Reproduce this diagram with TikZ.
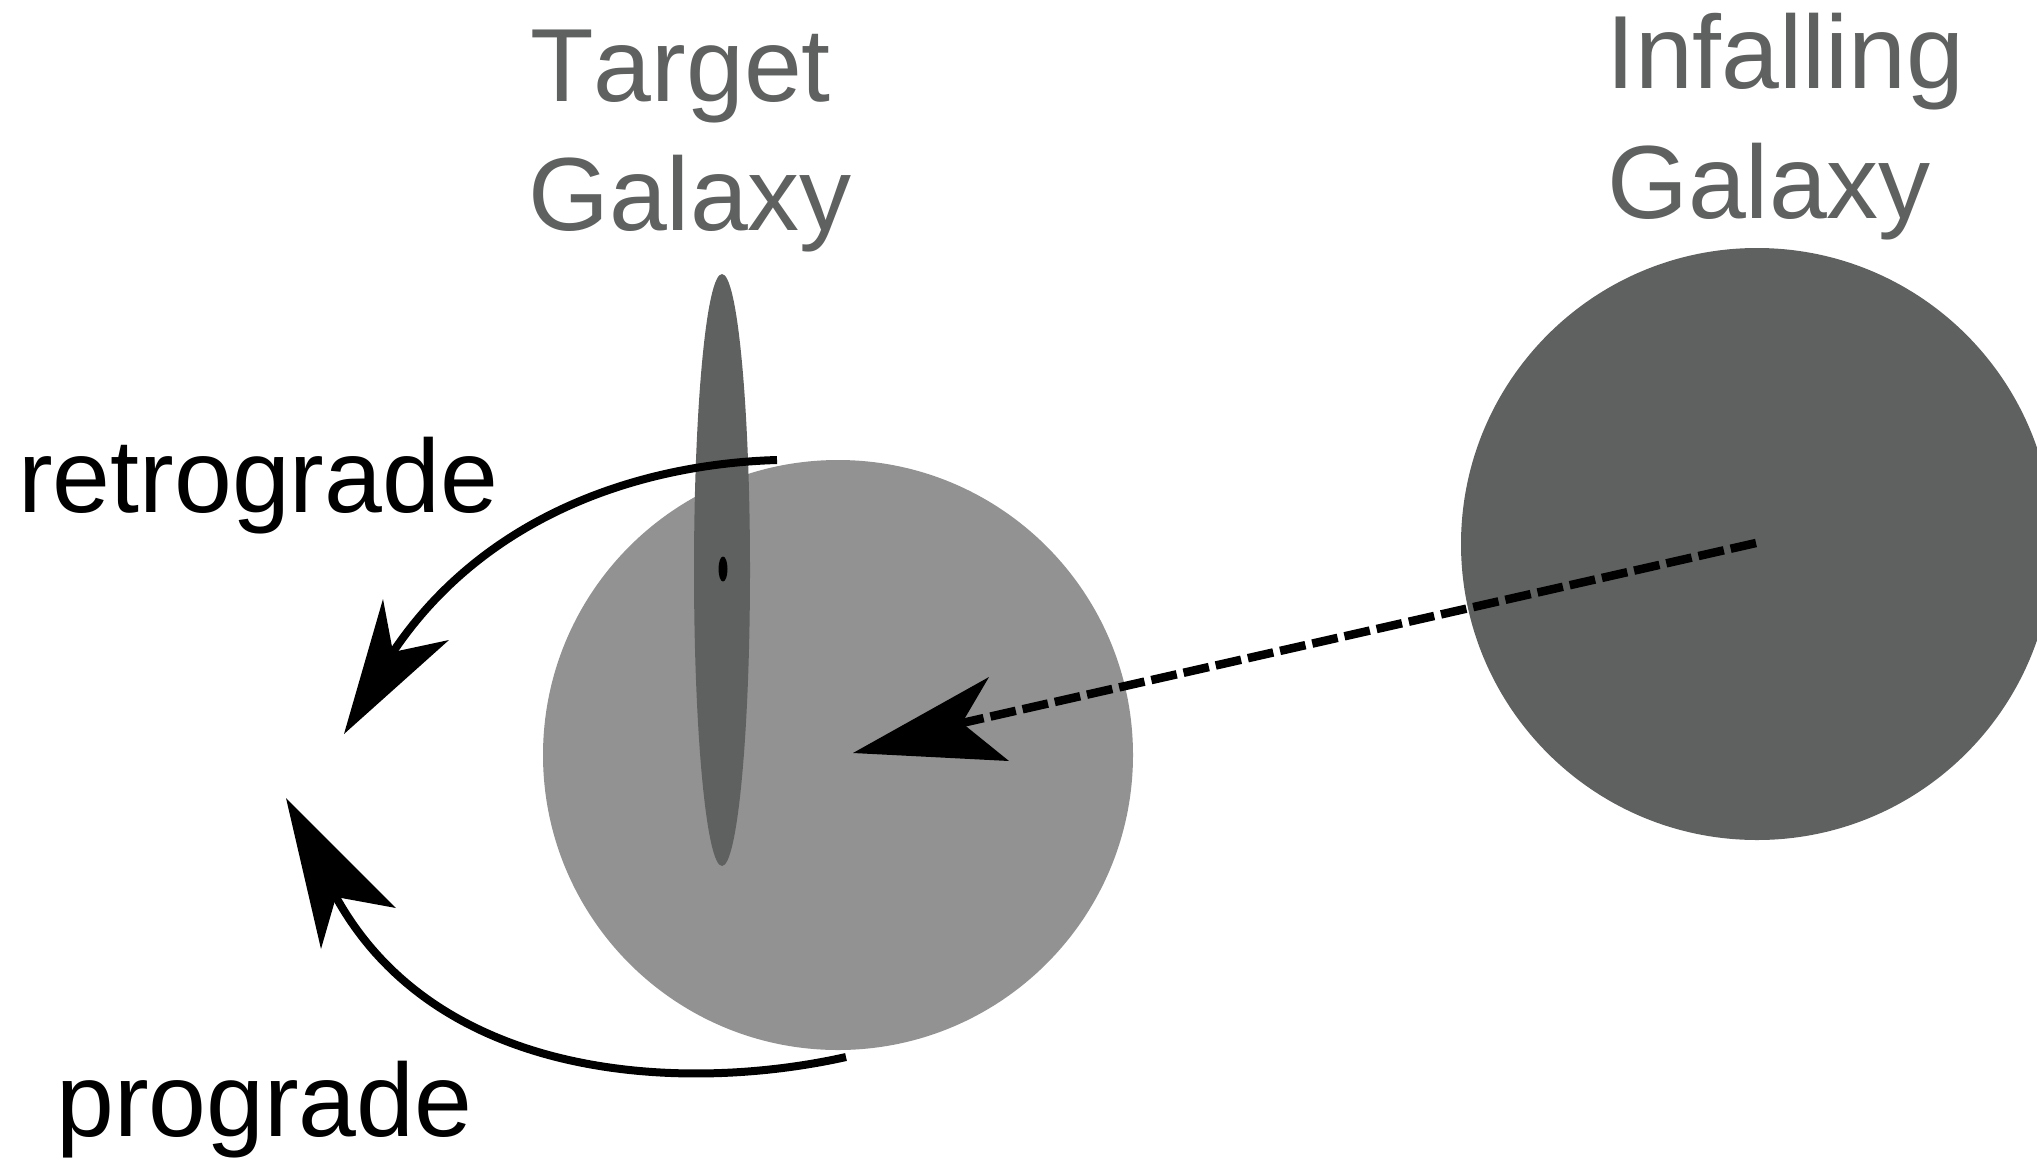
\documentclass[tikz,border=0pt]{standalone}
\usepackage{fontspec}
\setmainfont[Kerning=Off]{Liberation Sans}
\definecolor{darkg}{RGB}{95,97,96}
\definecolor{lightg}{RGB}{146,146,146}
\begin{document}
\begin{tikzpicture}[x=1pt,y=-1pt,
  lbl/.style={inner sep=0pt, anchor=base west, font=\fontsize{104}{120}\selectfont},
  title/.style={lbl, text=darkg},
  orbit/.style={line width=8pt},
  head/.style={fill=black},
  infall/.style={line width=8.5pt, dash pattern=on 26pt off 7pt}]
\useasboundingbox (0,0) rectangle (2037,1157);
\clip (0,0) rectangle (2037,1157);
% target galaxy halo, disc and nucleus
\fill[lightg] (838,755) circle[radius=295];
\fill[darkg] (722,570) ellipse[x radius=28, y radius=296];
\fill[black] (723,569) ellipse[x radius=4.5, y radius=12.5];
% infalling galaxy
\fill[darkg] (1757,544) circle[radius=296];
% named points
\coordinate (rs) at (777,460);
\coordinate (rn) at (393,652);
\coordinate (rt) at (344,734);
\coordinate (ps) at (846,1057);
\coordinate (pn) at (336,897);
\coordinate (pt) at (286,798);
\coordinate (ic) at (1756,543);
\coordinate (dn) at (962,723);
\coordinate (dt) at (853,753);
% retrograde
\draw[orbit] (rs) .. controls (640,464) and (485,515) .. (rn);
\fill[head] (rt) -- (383,599) -- (rn) -- (449,640) -- cycle;
% prograde
\draw[orbit] (ps) .. controls (690,1092) and (440,1085) .. (pn);
\fill[head] (pt) -- (321,949) -- (pn) -- (396,908) -- cycle;
% infall path
\draw[infall] (ic) -- (dn);
\fill[head] (dt) -- (989,677) -- (dn) -- (1009,761) -- cycle;
% labels
\node[title] (tg1) at (530,101) {Target};
\node[title] (tg2) at (528,230) {Galaxy};
\node[title] (ig1) at (1606,88) {Infalling};
\node[title] (ig2) at (1607,218) {Galaxy};
\node[lbl] (retro) at (18,512) {retrograde};
\node[lbl] (pro) at (56,1136) {prograde};
\end{tikzpicture}
\end{document}
